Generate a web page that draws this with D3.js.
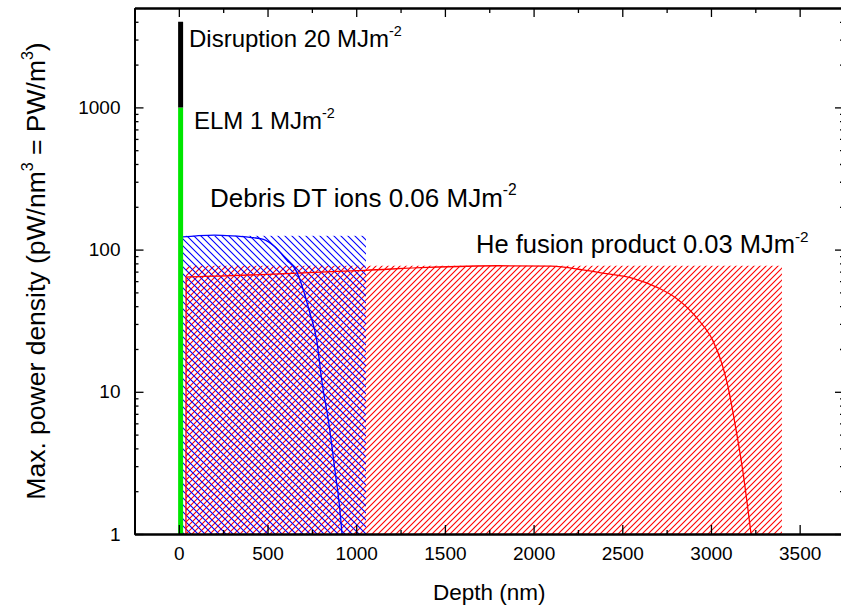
<!DOCTYPE html>
<html>
<head>
<meta charset="utf-8">
<script src="https://cdn.jsdelivr.net/npm/d3@7"></script>
<style>
  body { margin: 0; background: #fff; }
  text { font-family: Arial, "Liberation Sans", sans-serif; fill: #000; }
</style>
</head>
<body>
<div id="chart"></div>
<script>
// x ticks (depth, nm) and y ticks (power density)
const depthTicks = [0, 500, 1000, 1500, 2000, 2500, 3000, 3500];
const depthMinor = [-250, 250, 750, 1250, 1750, 2250, 2750, 3250, 3750];
const densityTicks = [1, 10, 100, 1000];
const densityMinor = [2, 3, 4, 5, 6, 7, 8, 9, 20, 30, 40, 50, 60, 70, 80, 90,
                      200, 300, 400, 500, 600, 700, 800, 900, 2000, 3000, 4000];

// loads (vertical bars at the surface)
const surfaceDepth = 10;
const elmRange = [1, 1000];
const disruptionRange = [1000, 4000];

// hatched boxes: [depth start, depth end, top value]
const debrisBox = [22, 1055, 125];
const heBox = [40, 3400, 77];

// debris DT ions profile
const debrisDepth = [22, 100, 200, 300, 400, 477, 540, 608, 664, 702, 739, 777, 805, 850, 880, 905, 920];
const debrisValue = [123, 125, 126.5, 125, 122, 118, 105, 84.5, 70, 52, 35.7, 23.2, 12.2, 5.5, 2.8, 1.6, 1];

// He fusion product profile
const heDepth = [40, 41, 200, 500, 800, 1050, 1400, 1800, 2100, 2278, 2400, 2560, 2700, 2804, 2930, 3010, 3060, 3095, 3132, 3179, 3226];
const heValue = [1, 64, 65, 67, 69.5, 71.5, 75, 77, 76.5, 72, 68, 62.8, 54, 45.5, 32, 23, 16, 11, 6.3, 2.8, 1];

const labels = ["Disruption 20 MJm", "ELM 1 MJm", "Debris DT ions 0.06 MJm", "He fusion product 0.03 MJm"];

const W = 841, H = 610;
const m = {left: 134.5, right: 844, top: 8, bottom: 534};

const svg = d3.select("#chart").append("svg")
    .attr("width", W).attr("height", H)
    .style("display", "block");

svg.append("rect").attr("width", W).attr("height", H).attr("fill", "#fff");

const x = d3.scaleLinear().domain([-250, 3750]).range([m.left, m.right]);
const y = d3.scaleLog().domain([1, 5000]).range([m.bottom, m.top]);

const defs = svg.append("defs");
defs.append("clipPath").attr("id", "plot-clip")
    .append("rect").attr("x", m.left).attr("y", m.top)
    .attr("width", m.right - m.left).attr("height", m.bottom - m.top);

// pixel-aligned diagonal hatch tiles
function hatch(id, color, g, forward) {
    const p = defs.append("pattern").attr("id", id)
        .attr("patternUnits", "userSpaceOnUse")
        .attr("width", g).attr("height", g);
    const d = forward
        ? `M0,${g}L${g},0M-1,1L1,-1M${g - 1},${g + 1}L${g + 1},${g - 1}`
        : `M0,0L${g},${g}M-1,${g - 1}L1,${g + 1}M${g - 1},-1L${g + 1},1`;
    p.append("path").attr("d", d)
        .attr("stroke", color).attr("stroke-width", 1.1).attr("fill", "none");
}
hatch("hatch-red", "#ff0000", 6, true);
hatch("hatch-blue", "#0000ff", 7, false);

const plot = svg.append("g").attr("clip-path", "url(#plot-clip)");

// hatched regions
plot.append("rect")
    .attr("x", x(heBox[0])).attr("y", y(heBox[2]))
    .attr("width", x(heBox[1]) - x(heBox[0]))
    .attr("height", y(1) - y(heBox[2]))
    .attr("fill", "url(#hatch-red)");

plot.append("rect")
    .attr("x", x(debrisBox[0])).attr("y", y(debrisBox[2]))
    .attr("width", x(debrisBox[1]) - x(debrisBox[0]))
    .attr("height", y(1) - y(debrisBox[2]))
    .attr("fill", "url(#hatch-blue)");

const line = d3.line().x(d => x(d[0])).y(d => y(d[1])).curve(d3.curveMonotoneX);

plot.append("path")
    .datum(d3.zip(heDepth, heValue))
    .attr("d", line)
    .attr("fill", "none").attr("stroke", "#ff0000").attr("stroke-width", 1.3);

plot.append("path")
    .datum(d3.zip(debrisDepth, debrisValue))
    .attr("d", line)
    .attr("fill", "none").attr("stroke", "#0000ff").attr("stroke-width", 1.3);

// ELM and disruption bars
plot.append("line")
    .attr("x1", x(surfaceDepth)).attr("x2", x(surfaceDepth))
    .attr("y1", y(elmRange[0])).attr("y2", y(elmRange[1]))
    .attr("stroke", "#00e600").attr("stroke-width", 5);
plot.append("line")
    .attr("x1", x(surfaceDepth)).attr("x2", x(surfaceDepth))
    .attr("y1", y(disruptionRange[0])).attr("y2", y(disruptionRange[1]))
    .attr("stroke", "#000").attr("stroke-width", 5);

// axes, ticks pointing inward
function styleAxis(g) {
    g.select(".domain").attr("stroke", "#000").attr("stroke-width", 2);
    g.selectAll(".tick line").attr("stroke", "#000").attr("stroke-width", 1.3);
    g.selectAll(".tick text").style("font-size", "19px")
        .style("font-family", "Arial, 'Liberation Sans', sans-serif");
}

svg.append("g").attr("transform", "translate(0," + m.bottom + ")")
    .call(d3.axisBottom(x).tickValues(depthMinor).tickSize(-4).tickSizeOuter(0).tickFormat(""))
    .call(styleAxis);
svg.append("g").attr("transform", "translate(0," + m.bottom + ")")
    .call(d3.axisBottom(x).tickValues(depthTicks).tickSize(-9).tickSizeOuter(0).tickPadding(13).tickFormat(d3.format("d")))
    .call(styleAxis);

svg.append("g").attr("transform", "translate(0," + m.top + ")")
    .call(d3.axisTop(x).tickValues(depthMinor).tickSize(-5).tickSizeOuter(0).tickFormat(""))
    .call(styleAxis);
svg.append("g").attr("transform", "translate(0," + m.top + ")")
    .call(d3.axisTop(x).tickValues(depthTicks).tickSize(-9).tickSizeOuter(0).tickFormat(""))
    .call(styleAxis);

svg.append("g").attr("transform", "translate(" + m.left + ",0)")
    .call(d3.axisLeft(y).tickValues(densityMinor).tickSize(-4).tickSizeOuter(0).tickFormat(""))
    .call(styleAxis);
svg.append("g").attr("transform", "translate(" + m.left + ",0)")
    .call(d3.axisLeft(y).tickValues(densityTicks).tickSize(-9).tickSizeOuter(0).tickPadding(14).tickFormat(d3.format("d")))
    .call(styleAxis);

svg.append("g").attr("transform", "translate(" + m.right + ",0)")
    .call(d3.axisRight(y).tickValues(densityMinor).tickSize(-4).tickSizeOuter(0).tickFormat(""))
    .call(styleAxis);
svg.append("g").attr("transform", "translate(" + m.right + ",0)")
    .call(d3.axisRight(y).tickValues(densityTicks).tickSize(-9).tickSizeOuter(0).tickFormat(""))
    .call(styleAxis);

// annotations with superscript
function supLabel(txt, sup, px, py, size) {
    const t = svg.append("text").attr("x", px).attr("y", py).style("font-size", size + "px");
    t.append("tspan").text(txt);
    t.append("tspan").attr("dy", -size * 0.45).style("font-size", (size * 0.6) + "px").text(sup);
    return t;
}
supLabel(labels[0], "-2", 189, 47, 24);
supLabel(labels[1], "-2", 194, 129, 24);
supLabel(labels[2], "-2", 210, 207, 26);
supLabel(labels[3], "-2", 476, 253, 25.5);

// axis titles
svg.append("text")
    .attr("x", (m.left + m.right) / 2).attr("y", 600)
    .attr("text-anchor", "middle").style("font-size", "22.5px")
    .text("Depth (nm)");

const yt = svg.append("text")
    .attr("transform", "translate(45," + ((m.top + m.bottom) / 2) + ") rotate(-90)")
    .attr("text-anchor", "middle").style("font-size", "26.5px");
yt.append("tspan").text("Max. power density (pW/nm");
yt.append("tspan").attr("dy", -12).style("font-size", "16px").text("3");
yt.append("tspan").attr("dy", 12).text(" = PW/m");
yt.append("tspan").attr("dy", -12).style("font-size", "16px").text("3");
yt.append("tspan").attr("dy", 12).text(")");
</script>
</body>
</html>
